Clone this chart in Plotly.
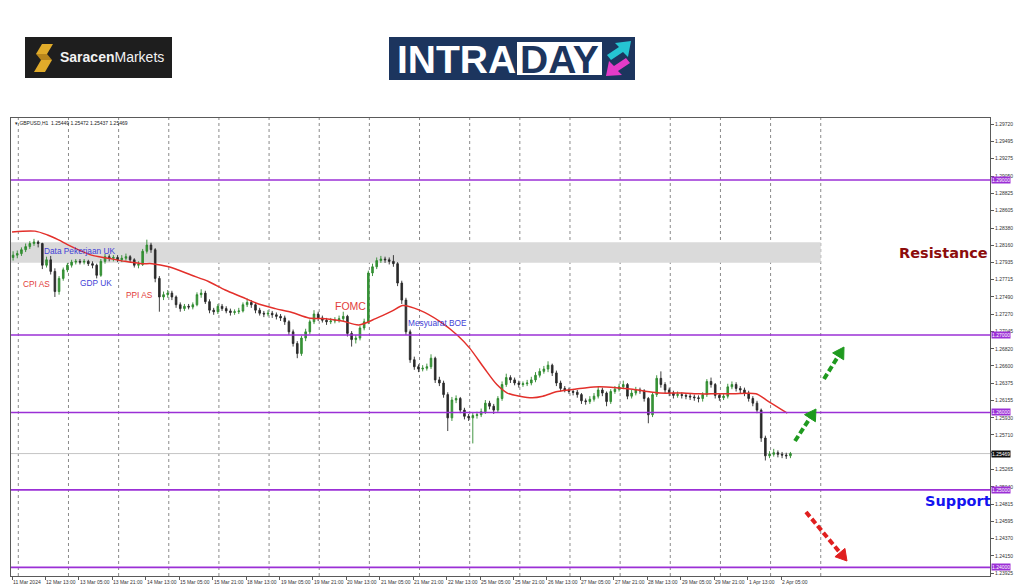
import math
import plotly.graph_objects as go

# ---------------- data ----------------
# GBPUSD, shown here as 2-hour candles; x = hours since 11 Mar 2024 21:00 (server time, weekends skipped)
open_ = [1.2800, 1.2803, 1.2805, 1.2810, 1.2814, 1.2818, 1.2820, 1.2818, 1.2790, 1.2797,
         1.2782, 1.2756, 1.2773, 1.2784, 1.2790, 1.2794, 1.2795, 1.2794, 1.2795, 1.2792,
         1.2790, 1.2777, 1.2795, 1.2801, 1.2799, 1.2800, 1.2797, 1.2799, 1.2801, 1.2797,
         1.2790, 1.2791, 1.2808, 1.2816, 1.2810, 1.2773, 1.2749, 1.2752, 1.2754, 1.2749,
         1.2739, 1.2734, 1.2737, 1.2736, 1.2739, 1.2752, 1.2754, 1.2743, 1.2732, 1.2730,
         1.2737, 1.2734, 1.2731, 1.2729, 1.2730, 1.2731, 1.2739, 1.2742, 1.2739, 1.2732,
         1.2728, 1.2727, 1.2728, 1.2726, 1.2724, 1.2722, 1.2717, 1.2704, 1.2689, 1.2676,
         1.2696, 1.2704, 1.2717, 1.2727, 1.2722, 1.2719, 1.2717, 1.2718, 1.2719, 1.2721,
         1.2724, 1.2702, 1.2694, 1.2696, 1.2709, 1.2717, 1.2780, 1.2788, 1.2796, 1.2798,
         1.2797, 1.2795, 1.2792, 1.2767, 1.2745, 1.2704, 1.2668, 1.2659, 1.2656, 1.2657,
         1.2659, 1.2670, 1.2642, 1.2638, 1.2623, 1.2593, 1.2616, 1.2618, 1.2603, 1.2595,
         1.2593, 1.2596, 1.2597, 1.2601, 1.2612, 1.2608, 1.2603, 1.2618, 1.2636, 1.2645,
         1.2642, 1.2638, 1.2636, 1.2637, 1.2638, 1.2642, 1.2648, 1.2653, 1.2656, 1.2661,
         1.2651, 1.2638, 1.2631, 1.2629, 1.2627, 1.2626, 1.2623, 1.2615, 1.2614, 1.2617,
         1.2621, 1.2629, 1.2625, 1.2614, 1.2627, 1.2630, 1.2633, 1.2636, 1.2621, 1.2625,
         1.2629, 1.2628, 1.2618, 1.2597, 1.2623, 1.2644, 1.2636, 1.2629, 1.2625, 1.2622,
         1.2623, 1.2622, 1.2621, 1.2620, 1.2619, 1.2618, 1.2623, 1.2640, 1.2636, 1.2622,
         1.2619, 1.2621, 1.2633, 1.2636, 1.2631, 1.2629, 1.2625, 1.2618, 1.2612, 1.2603,
         1.2567, 1.2544, 1.2546, 1.2548, 1.2546, 1.2545, 1.2544]
high = [1.2808, 1.2809, 1.2813, 1.2818, 1.2821, 1.2824, 1.2822, 1.2819, 1.2801, 1.2802,
        1.2786, 1.2776, 1.2787, 1.2793, 1.2797, 1.2798, 1.2798, 1.2798, 1.2797, 1.2795,
        1.2792, 1.2798, 1.2805, 1.2804, 1.2803, 1.2803, 1.2803, 1.2805, 1.2803, 1.2799,
        1.2795, 1.2811, 1.2823, 1.2819, 1.2812, 1.2776, 1.2756, 1.2758, 1.2757, 1.2751,
        1.2742, 1.2740, 1.2740, 1.2742, 1.2755, 1.2759, 1.2757, 1.2746, 1.2735, 1.2740,
        1.2740, 1.2737, 1.2734, 1.2733, 1.2735, 1.2742, 1.2747, 1.2745, 1.2741, 1.2735,
        1.2731, 1.2732, 1.2731, 1.2729, 1.2727, 1.2725, 1.2719, 1.2707, 1.2692, 1.2699,
        1.2708, 1.2720, 1.2732, 1.2730, 1.2725, 1.2722, 1.2722, 1.2723, 1.2725, 1.2730,
        1.2726, 1.2705, 1.2700, 1.2712, 1.2721, 1.2783, 1.2792, 1.2800, 1.2802, 1.2801,
        1.2800, 1.2803, 1.2794, 1.2770, 1.2748, 1.2707, 1.2672, 1.2662, 1.2661, 1.2663,
        1.2675, 1.2672, 1.2646, 1.2641, 1.2626, 1.2620, 1.2622, 1.2620, 1.2606, 1.2598,
        1.2600, 1.2601, 1.2605, 1.2616, 1.2615, 1.2611, 1.2621, 1.2640, 1.2650, 1.2648,
        1.2645, 1.2641, 1.2640, 1.2642, 1.2646, 1.2652, 1.2657, 1.2660, 1.2666, 1.2663,
        1.2654, 1.2641, 1.2634, 1.2632, 1.2630, 1.2629, 1.2625, 1.2618, 1.2621, 1.2625,
        1.2633, 1.2632, 1.2627, 1.2630, 1.2634, 1.2637, 1.2641, 1.2638, 1.2629, 1.2633,
        1.2632, 1.2630, 1.2620, 1.2626, 1.2648, 1.2653, 1.2639, 1.2632, 1.2628, 1.2627,
        1.2626, 1.2625, 1.2624, 1.2623, 1.2622, 1.2626, 1.2643, 1.2645, 1.2638, 1.2625,
        1.2625, 1.2637, 1.2640, 1.2639, 1.2634, 1.2632, 1.2628, 1.2621, 1.2615, 1.2605,
        1.2570, 1.2550, 1.2553, 1.2551, 1.2549, 1.2548, 1.2549]
low = [1.2796, 1.2799, 1.2802, 1.2807, 1.2811, 1.2815, 1.2813, 1.2785, 1.2787, 1.2778,
       1.2749, 1.2752, 1.2770, 1.2781, 1.2787, 1.2791, 1.2791, 1.2791, 1.2789, 1.2786,
       1.2773, 1.2775, 1.2792, 1.2795, 1.2795, 1.2794, 1.2794, 1.2796, 1.2794, 1.2787,
       1.2786, 1.2789, 1.2805, 1.2806, 1.2768, 1.2730, 1.2745, 1.2748, 1.2745, 1.2735,
       1.2730, 1.2731, 1.2733, 1.2733, 1.2737, 1.2748, 1.2740, 1.2728, 1.2726, 1.2727,
       1.2731, 1.2728, 1.2725, 1.2726, 1.2727, 1.2729, 1.2736, 1.2735, 1.2728, 1.2725,
       1.2723, 1.2724, 1.2722, 1.2720, 1.2718, 1.2713, 1.2700, 1.2685, 1.2670, 1.2673,
       1.2692, 1.2701, 1.2714, 1.2718, 1.2716, 1.2713, 1.2714, 1.2715, 1.2716, 1.2718,
       1.2698, 1.2685, 1.2689, 1.2693, 1.2706, 1.2714, 1.2776, 1.2785, 1.2793, 1.2793,
       1.2791, 1.2788, 1.2763, 1.2740, 1.2700, 1.2664, 1.2655, 1.2652, 1.2653, 1.2654,
       1.2656, 1.2638, 1.2634, 1.2619, 1.2576, 1.2589, 1.2612, 1.2599, 1.2591, 1.2589,
       1.2560, 1.2592, 1.2594, 1.2598, 1.2604, 1.2598, 1.2600, 1.2615, 1.2633, 1.2638,
       1.2635, 1.2632, 1.2633, 1.2634, 1.2635, 1.2639, 1.2645, 1.2650, 1.2652, 1.2647,
       1.2634, 1.2627, 1.2626, 1.2624, 1.2622, 1.2619, 1.2611, 1.2610, 1.2611, 1.2614,
       1.2618, 1.2621, 1.2608, 1.2611, 1.2624, 1.2627, 1.2630, 1.2617, 1.2618, 1.2622,
       1.2624, 1.2614, 1.2586, 1.2594, 1.2620, 1.2632, 1.2625, 1.2621, 1.2618, 1.2619,
       1.2618, 1.2617, 1.2616, 1.2615, 1.2613, 1.2614, 1.2620, 1.2632, 1.2618, 1.2615,
       1.2616, 1.2618, 1.2630, 1.2627, 1.2625, 1.2621, 1.2614, 1.2608, 1.2599, 1.2562,
       1.2538, 1.2541, 1.2543, 1.2542, 1.2541, 1.2540, 1.2541]
close = [1.2803, 1.2805, 1.2810, 1.2814, 1.2818, 1.2820, 1.2818, 1.2790, 1.2797, 1.2782,
         1.2756, 1.2773, 1.2784, 1.2790, 1.2794, 1.2795, 1.2794, 1.2795, 1.2792, 1.2790,
         1.2777, 1.2795, 1.2801, 1.2799, 1.2800, 1.2797, 1.2799, 1.2801, 1.2797, 1.2790,
         1.2791, 1.2808, 1.2816, 1.2810, 1.2773, 1.2749, 1.2752, 1.2754, 1.2749, 1.2739,
         1.2734, 1.2737, 1.2736, 1.2739, 1.2752, 1.2754, 1.2743, 1.2732, 1.2730, 1.2737,
         1.2734, 1.2731, 1.2729, 1.2730, 1.2731, 1.2739, 1.2742, 1.2739, 1.2732, 1.2728,
         1.2727, 1.2728, 1.2726, 1.2724, 1.2722, 1.2717, 1.2704, 1.2689, 1.2676, 1.2696,
         1.2704, 1.2717, 1.2727, 1.2722, 1.2719, 1.2717, 1.2718, 1.2719, 1.2721, 1.2724,
         1.2702, 1.2694, 1.2696, 1.2709, 1.2717, 1.2780, 1.2788, 1.2796, 1.2798, 1.2797,
         1.2795, 1.2792, 1.2767, 1.2745, 1.2704, 1.2668, 1.2659, 1.2656, 1.2657, 1.2659,
         1.2670, 1.2642, 1.2638, 1.2623, 1.2593, 1.2616, 1.2618, 1.2603, 1.2595, 1.2593,
         1.2596, 1.2597, 1.2601, 1.2612, 1.2608, 1.2603, 1.2618, 1.2636, 1.2645, 1.2642,
         1.2638, 1.2636, 1.2637, 1.2638, 1.2642, 1.2648, 1.2653, 1.2656, 1.2661, 1.2651,
         1.2638, 1.2631, 1.2629, 1.2627, 1.2626, 1.2623, 1.2615, 1.2614, 1.2617, 1.2621,
         1.2629, 1.2625, 1.2614, 1.2627, 1.2630, 1.2633, 1.2636, 1.2621, 1.2625, 1.2629,
         1.2628, 1.2618, 1.2597, 1.2623, 1.2644, 1.2636, 1.2629, 1.2625, 1.2622, 1.2623,
         1.2622, 1.2621, 1.2620, 1.2619, 1.2618, 1.2623, 1.2640, 1.2636, 1.2622, 1.2619,
         1.2621, 1.2633, 1.2636, 1.2631, 1.2629, 1.2625, 1.2618, 1.2612, 1.2603, 1.2567,
         1.2544, 1.2546, 1.2548, 1.2546, 1.2545, 1.2544, 1.25469]
bar_hours = [2 * k + 0.5 for k in range(len(close))]

# red moving average (hours, price)
ma_hours = [0, 11, 17, 22, 30, 38, 46, 54, 62, 67, 75, 86, 94, 102, 110, 118, 126, 134, 142, 150,
            158, 166, 174, 182, 187, 195, 205, 213, 219, 226, 232, 237, 243, 249, 254, 261, 269, 275,
            281, 289, 297, 304, 310, 321, 329, 337, 345, 356, 361, 371]
ma_vals = [1.2833, 1.2834, 1.2829, 1.2823, 1.2812, 1.2803, 1.2799, 1.2795, 1.2792, 1.2792,
           1.2788, 1.2777, 1.2769, 1.2758, 1.2749, 1.2740, 1.2734, 1.2729, 1.2722, 1.2721,
           1.2718, 1.2713, 1.2721, 1.2731, 1.2738, 1.2732, 1.2717, 1.2700, 1.2683, 1.2657,
           1.2636, 1.2625, 1.2621, 1.2619, 1.2621, 1.2627, 1.2630, 1.2632, 1.2633, 1.2632,
           1.2630, 1.2627, 1.2625, 1.2625, 1.2624, 1.2624, 1.2624, 1.2624, 1.2616, 1.2599]

levels = [1.29000, 1.27000, 1.26000, 1.25000, 1.24000]
current_price = 1.25469
zone_low, zone_high, zone_end_hour = 1.27933, 1.28195, 387

day_start_hours = [3, 27, 51, 75, 99, 123, 147, 171, 195, 219, 243, 267, 291, 315, 339, 363, 387]
x_label_hours = [0, 16, 32, 48, 64, 80, 96, 112, 128, 144, 160, 176, 192, 208, 224, 240, 256,
                 272, 288, 304, 320, 336, 352, 368]
x_label_text = ["11 Mar 2024", "12 Mar 13:00", "13 Mar 05:00", "13 Mar 21:00", "14 Mar 13:00",
                "15 Mar 05:00", "15 Mar 21:00", "18 Mar 13:00", "19 Mar 05:00", "19 Mar 21:00",
                "20 Mar 13:00", "21 Mar 05:00", "21 Mar 21:00", "22 Mar 13:00", "25 Mar 05:00",
                "25 Mar 21:00", "26 Mar 13:00", "27 Mar 05:00", "27 Mar 21:00", "28 Mar 13:00",
                "29 Mar 05:00", "29 Mar 21:00", "1 Apr 13:00", "2 Apr 05:00"]
y_tick_vals = [1.29720, 1.29495, 1.29275, 1.29050, 1.28825, 1.28605, 1.28380, 1.28160, 1.27935,
               1.27715, 1.27490, 1.27270, 1.27045, 1.26820, 1.26600, 1.26375, 1.26155, 1.25930,
               1.25710, 1.25485, 1.25265, 1.25040, 1.24815, 1.24595, 1.24370, 1.24150, 1.23925]
hidden_ticks = [1.25485]   # fully covered by the current-price box in the reference

# event labels: (text, hour, price, colour key)
events = [("Data Pekerjaan UK", 14.5, 1.28090, "blue"),
          ("CPI AS", 4.3, 1.27658, "red"),
          ("GDP UK", 31.6, 1.27671, "blue"),
          ("PPI AS", 53.6, 1.27510, "red"),
          ("Mesyuarat BOE", 188.5, 1.27160, "blue")]

# ---------------- layout helpers (screen pixel -> paper, decoration only) ----------------
OFF = 8                      # page body margin of the html page
W, H = 1024 - OFF, 587 - OFF
L, R, T, B = 11, 990, 118, 576   # plot frame in screen pixels
def px(x):
    return (x - L) / (R - L)
def py(y):
    return (B - y) / (B - T)

FONT = "Liberation Sans, Arial, sans-serif"
PURPLE = "#9b30d6"
BLUE = "#3f3fd6"
RED = "#e23d3a"

fig = go.Figure()
fig.add_trace(go.Candlestick(
    x=bar_hours, open=open_, high=high, low=low, close=close,
    increasing=dict(line=dict(color="#2f8a2f", width=0.9), fillcolor="#3a9a3a"),
    decreasing=dict(line=dict(color="#2a2a2a", width=0.9), fillcolor="#2a2a2a"),
    whiskerwidth=0, hoverinfo="skip", showlegend=False))
fig.add_trace(go.Scatter(x=ma_hours, y=ma_vals, mode="lines",
                         line=dict(color="#e3302b", width=1.5, shape="spline", smoothing=0.8),
                         hoverinfo="skip", showlegend=False))

shapes = []
shapes.append(dict(type="rect", xref="x", yref="y", x0=-1, x1=zone_end_hour, y0=zone_low, y1=zone_high,
                   fillcolor="#dadada", line=dict(width=0), layer="below"))
for h in day_start_hours:
    shapes.append(dict(type="line", xref="x", yref="paper", x0=h, x1=h, y0=0, y1=1,
                       line=dict(color="#8a8a8a", width=1, dash="dot"), layer="below"))
shapes.append(dict(type="line", xref="paper", yref="y", x0=0, x1=1, y0=current_price, y1=current_price,
                   line=dict(color="#c4c4c4", width=1), layer="below"))
for lv in levels:
    shapes.append(dict(type="line", xref="paper", yref="y", x0=0, x1=1, y0=lv, y1=lv,
                       line=dict(color=PURPLE, width=1.6), layer="above"))

def arrow(tail, tip, color, length=11, half=6.5):
    dx, dy = tip[0] - tail[0], tip[1] - tail[1]
    n = math.hypot(dx, dy)
    ux, uy = dx / n, dy / n
    bx, by = tip[0] - length * ux, tip[1] - length * uy
    qx, qy = -uy, ux
    p1 = (bx + half * qx, by + half * qy)
    p2 = (bx - half * qx, by - half * qy)
    out = [dict(type="line", xref="paper", yref="paper",
                x0=px(tail[0]), y0=py(tail[1]), x1=px(bx + 2 * ux), y1=py(by + 2 * uy),
                line=dict(color=color, width=4, dash="6px,3px"))]
    path = "M {:.5f},{:.5f} L {:.5f},{:.5f} L {:.5f},{:.5f} Z".format(
        px(tip[0]), py(tip[1]), px(p1[0]), py(p1[1]), px(p2[0]), py(p2[1]))
    out.append(dict(type="path", xref="paper", yref="paper", path=path,
                    fillcolor=color, line=dict(color=color, width=1)))
    return out

shapes += arrow((795, 441), (816, 409), "#1f9a1f")
shapes += arrow((824, 379), (844, 347), "#1f9a1f")
shapes += arrow((806, 512), (847, 561), "#e01f1f")

def poly(pts, color, lc=None):
    return dict(type="path", xref="paper", yref="paper",
                path="M " + " L ".join("{:.5f},{:.5f}".format(px(a), py(b)) for a, b in pts) + " Z",
                fillcolor=color, line=dict(width=0.5 if lc else 0, color=lc or color))

# ---- logos ----
shapes.append(dict(type="rect", xref="paper", yref="paper", x0=px(25), x1=px(172), y0=py(78), y1=py(37),
                   fillcolor="#1e1e1e", line=dict(width=0)))
shapes.append(poly([(42, 44), (53, 44), (47, 54), (36, 54)], "#e0ab2a"))
shapes.append(poly([(36, 54), (47, 54), (52, 60), (41, 60)], "#b8861c"))
shapes.append(poly([(41, 60), (52, 60), (45, 72), (34, 72)], "#e0ab2a"))
shapes.append(dict(type="rect", xref="paper", yref="paper", x0=px(389), x1=px(635), y0=py(80), y1=py(37),
                   fillcolor="#1c355e", line=dict(width=0)))
shapes.append(dict(type="rect", xref="paper", yref="paper", x0=px(517), x1=px(602), y0=py(75), y1=py(42),
                   fillcolor="#ffffff", line=dict(width=0)))
shapes.append(poly([(631, 41), (615, 43), (619, 47), (607, 55), (611, 60), (623, 52), (628, 57)], "#25c4d2"))
shapes.append(poly([(606, 76), (622, 75), (618, 71), (630, 63), (626, 58), (614, 66), (609, 61)], "#e43bc8"))

ann = []
for lbl, hr in zip(x_label_text, x_label_hours):
    ann.append(dict(x=hr, y=0, xref="x", yref="paper", text=lbl, showarrow=False,
                    xanchor="left", yanchor="top", yshift=-1, xshift=-1,
                    font=dict(family=FONT, size=5, color="#333333")))
for lv in levels:
    ann.append(dict(x=1, y=lv, xref="paper", yref="y", text="{:.5f}".format(lv), showarrow=False,
                    xanchor="left", yanchor="middle", xshift=1, bgcolor=PURPLE, borderpad=0,
                    font=dict(family=FONT, size=5, color="#ffffff")))
ann.append(dict(x=1, y=current_price, xref="paper", yref="y", text="{:.5f}".format(current_price),
                showarrow=False, xanchor="left", yanchor="middle", xshift=1, bgcolor="#111111",
                borderpad=0, font=dict(family=FONT, size=5, color="#ffffff")))
for txt, hr, pr, ck in events:
    ann.append(dict(x=hr, y=pr, xref="x", yref="y", text=txt, showarrow=False,
                    xanchor="left", yanchor="middle",
                    font=dict(family=FONT, size=8.3, color=BLUE if ck == "blue" else RED)))
ann.append(dict(x=153.5, y=1.27380, xref="x", yref="y", text="FOMC", showarrow=False,
                xanchor="left", yanchor="middle", font=dict(family=FONT, size=10.5, color=RED)))
ann.append(dict(x=px(897), y=py(253), xref="paper", yref="paper", text="<b>Resistance</b>", showarrow=False,
                xanchor="left", yanchor="middle",
                font=dict(family="DejaVu Sans, sans-serif", size=14.5, color="#8c0c0c")))
ann.append(dict(x=px(923), y=py(501), xref="paper", yref="paper", text="<b>Support</b>", showarrow=False,
                xanchor="left", yanchor="middle",
                font=dict(family="DejaVu Sans, sans-serif", size=14.5, color="#1414f0")))
ann.append(dict(x=px(13), y=py(123), xref="paper", yref="paper",
                text="\u25be GBPUSD,H1  1.25449 1.25472 1.25437 1.25469", showarrow=False,
                xanchor="left", yanchor="middle", font=dict(family=FONT, size=5, color="#222222")))
ann.append(dict(x=px(58), y=py(57.5), xref="paper", yref="paper",
                text="<b>Saracen</b>Markets", showarrow=False, xanchor="left", yanchor="middle",
                font=dict(family=FONT, size=14, color="#f2f2f2")))
ann.append(dict(x=px(456), y=py(59), xref="paper", yref="paper", text="<b>INTRA</b>", showarrow=False,
                xanchor="center", yanchor="middle", font=dict(family=FONT, size=39, color="#ffffff")))
ann.append(dict(x=px(559.5), y=py(59), xref="paper", yref="paper", text="<b>DAY</b>", showarrow=False,
                xanchor="center", yanchor="middle", font=dict(family=FONT, size=39, color="#1c355e")))

fig.update_layout(
    width=W, height=H, autosize=False,
    margin=dict(l=L - OFF, r=W - (R - OFF), t=T - OFF, b=H - (B - OFF), pad=0),
    paper_bgcolor="#ffffff", plot_bgcolor="#ffffff",
    shapes=shapes, annotations=ann, showlegend=False, boxgap=0.45,
    xaxis=dict(range=[-0.5, 468], showgrid=False, zeroline=False, rangeslider=dict(visible=False),
               showline=True, mirror=True, linecolor="#5a5a5a", linewidth=1,
               tickvals=x_label_hours, ticks="outside", ticklen=3, tickcolor="#5a5a5a",
               showticklabels=False, fixedrange=True),
    yaxis=dict(range=[1.23889, 1.29800], side="right", showgrid=False, zeroline=False,
               showline=True, mirror=True, linecolor="#5a5a5a", linewidth=1,
               tickvals=y_tick_vals,
               ticktext=["" if v in hidden_ticks else "{:.5f}".format(v) for v in y_tick_vals],
               ticks="outside", ticklen=3, tickcolor="#5a5a5a",
               tickfont=dict(family=FONT, size=5, color="#333333"), fixedrange=True),
)

fig.write_html("out.html")
